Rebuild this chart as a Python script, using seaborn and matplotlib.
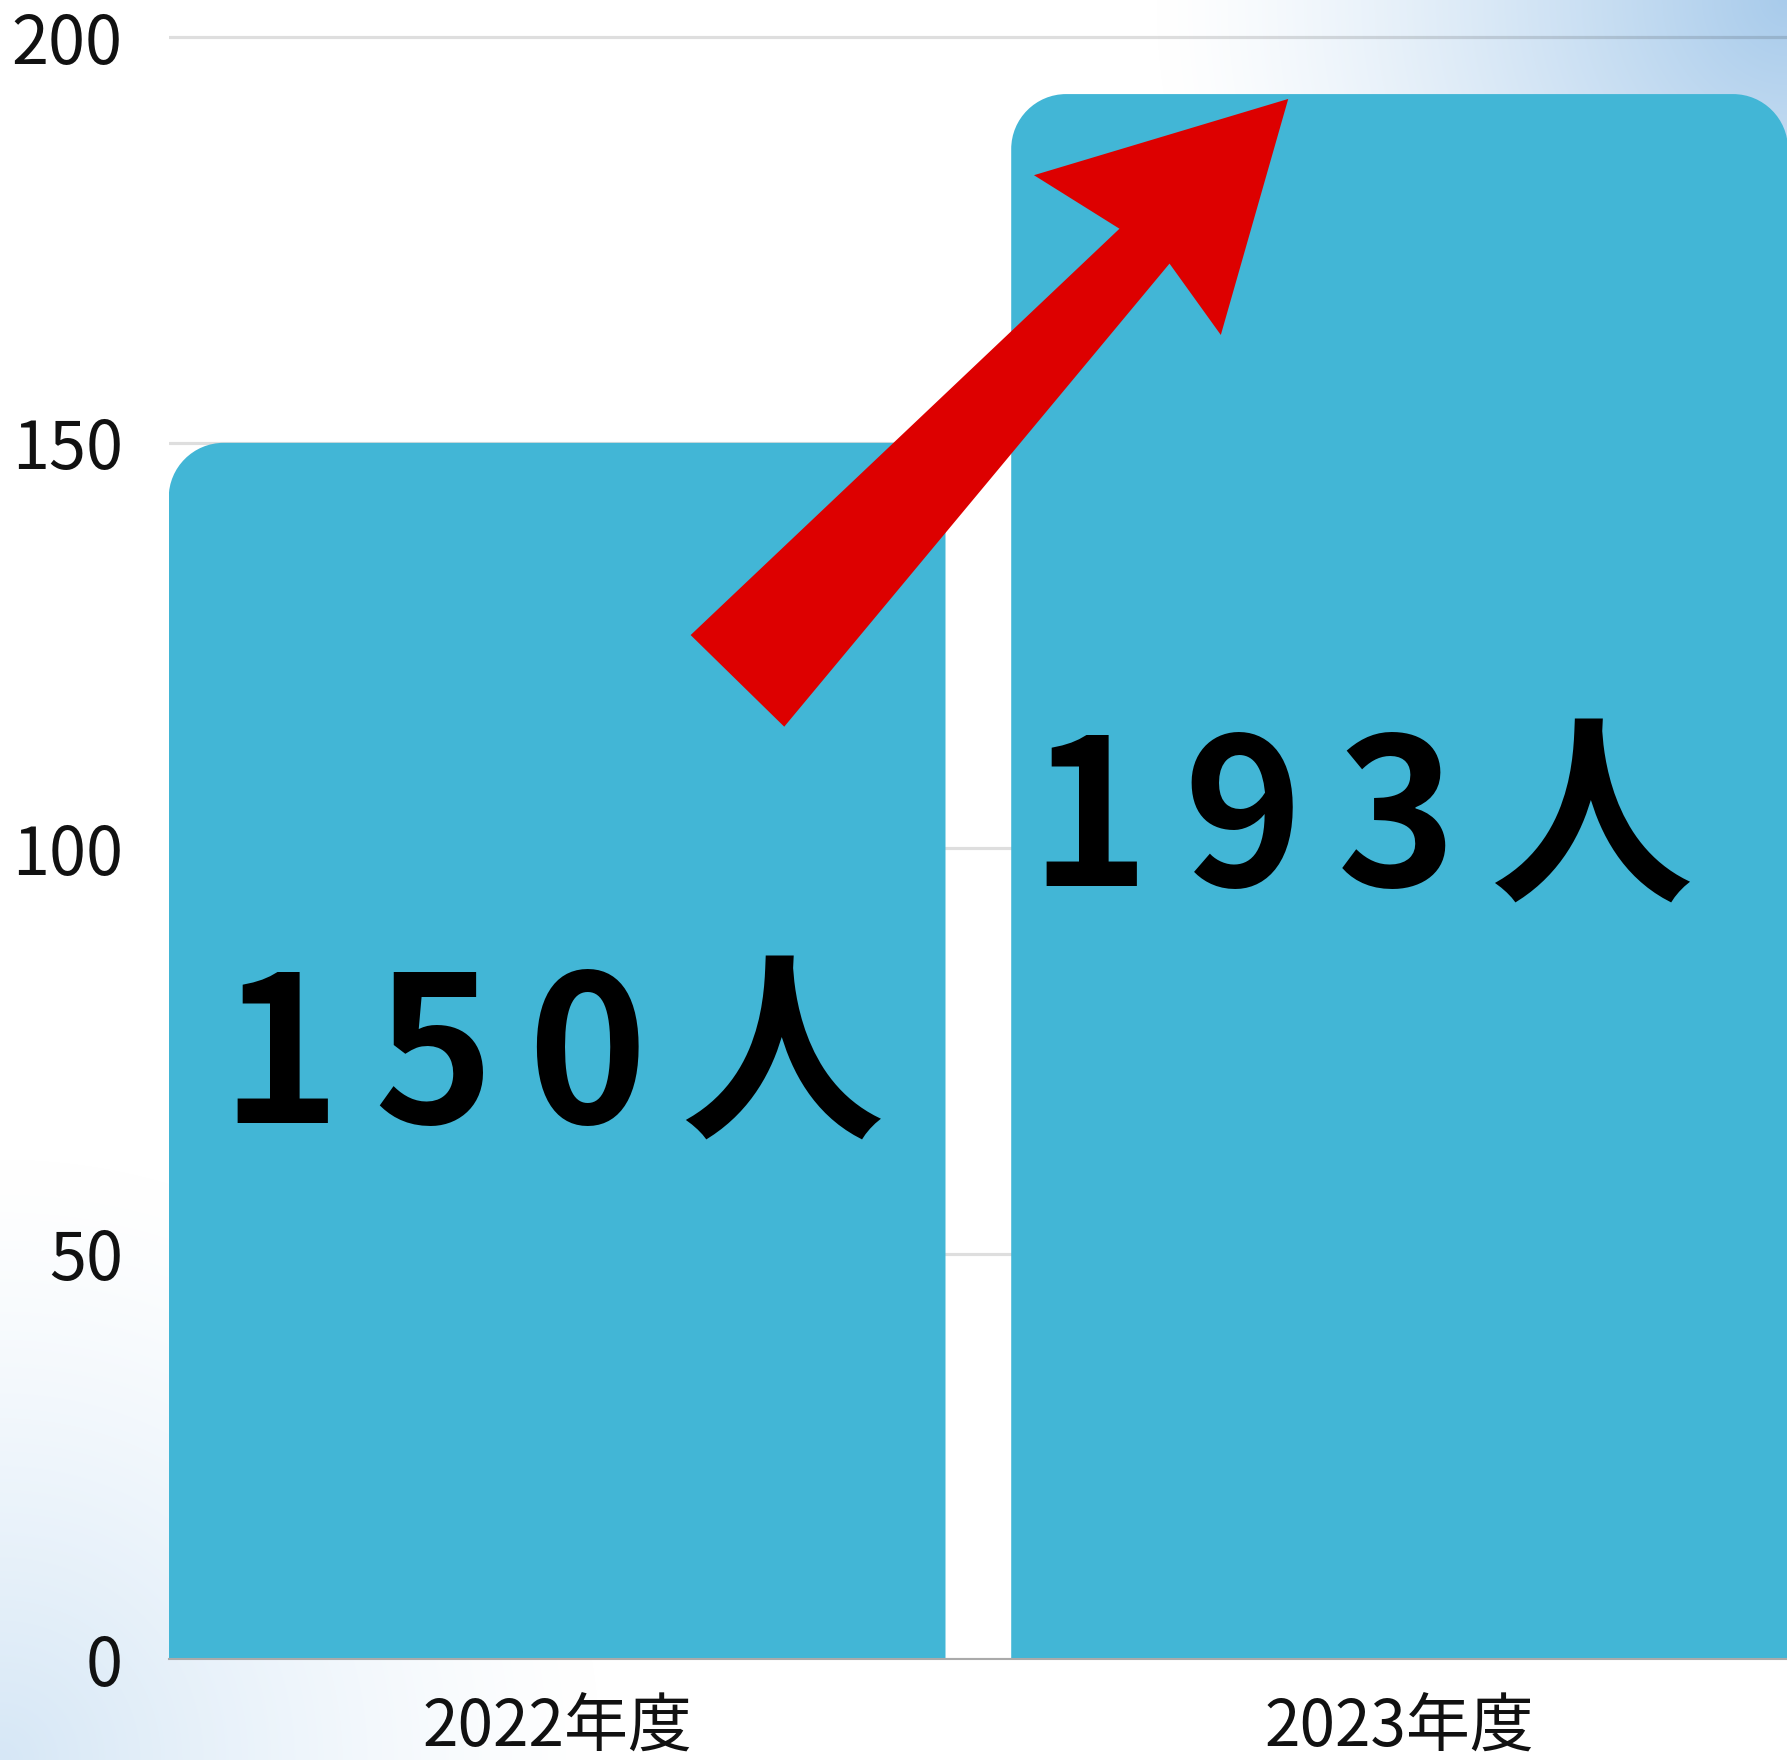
import numpy as np
import pandas as pd
import matplotlib
matplotlib.use("Agg")
from matplotlib import pyplot as plt
from matplotlib.patches import PathPatch, Polygon
from matplotlib.path import Path
import seaborn as sns

# data
years = ["2022年度", "2023年度"]
members = [150, 193]
value_labels = ["1\u20065\u20060\u2006人", "1\u20069\u20063\u2006人"]
label_base = [66.2, 95.4]      # baseline of the big labels (data units)
label_dx = [-0.005, -0.045]
y_ticks = [0, 50, 100, 150, 200]

# red "growth" arrow, data coords
arrow_x = [0.1585, 0.6675, 0.566, 0.8678, 0.7878, 0.7269, 0.2696]
arrow_y = [126.3, 176.4, 183.0, 192.4, 163.3, 172.1, 115.0]

bar_color = "#42B6D6"
arrow_color = "#DD0000"

sns.set_theme(style="white")
plt.rcParams['font.family'] = ['Noto Sans CJK JP', 'DejaVu Sans']

W, H = 1787, 1760
fig = plt.figure(figsize=(W / 100, H / 100), dpi=100)

# background: white with soft blue corners
bg = fig.add_axes([0, 0, 1, 1], zorder=0)
yy, xx = np.mgrid[0:H, 0:W].astype(float)
img = np.ones((H, W, 3))
w_tr = np.clip(1 - np.hypot(xx - W, yy) / 630, 0, 1) ** 1.3
w_bl = np.clip(1 - np.hypot(xx, yy - H) / 600, 0, 1) ** 1.3
c_tr = np.array([168, 203, 235]) / 255
c_bl = np.array([214, 231, 246]) / 255
img = img - w_tr[..., None] * (1 - c_tr) - w_bl[..., None] * (1 - c_bl)
bg.imshow(np.clip(img, 0, 1), extent=[0, 1, 0, 1], aspect='auto', origin='upper')
bg.axis('off')

left = 168.7 / W
bottom = 1 - 1659.4 / H
ax = fig.add_axes([left, bottom, 1788 / W - left, 1 - bottom], zorder=1)
ax.set_facecolor('none')

df = pd.DataFrame({"year": years, "members": members})
sns.barplot(data=df, x="year", y="members", color=bar_color, saturation=1,
            width=0.922, ax=ax)

ax.set_xlim(-0.461, 1.461)
ax.set_ylim(0, 204.6)

# rounded top corners (circular, ~55px radius)
px_x = 1619 / 1.922
px_y = 1659.4 / 204.6
rx, ry = 55 / px_x, 55 / px_y
k = 0.5523
for p in list(ax.patches):
    x, w, h = p.get_x(), p.get_width(), p.get_height()
    p.remove()
    verts = [(x, 0), (x, h - ry),
             (x, h - ry + k * ry), (x + rx - k * rx, h), (x + rx, h),
             (x + w - rx, h),
             (x + w - rx + k * rx, h), (x + w, h - ry + k * ry), (x + w, h - ry),
             (x + w, 0), (x, 0)]
    codes = [Path.MOVETO, Path.LINETO,
             Path.CURVE4, Path.CURVE4, Path.CURVE4,
             Path.LINETO,
             Path.CURVE4, Path.CURVE4, Path.CURVE4,
             Path.LINETO, Path.CLOSEPOLY]
    ax.add_patch(PathPatch(Path(verts, codes), fc=bar_color, ec='none', zorder=2))

ax.add_patch(Polygon(np.column_stack([arrow_x, arrow_y]), closed=True,
                     fc=arrow_color, ec='none', zorder=3))

for i, lab in enumerate(value_labels):
    ax.text(i + label_dx[i], label_base[i], lab, ha='center', va='baseline',
            fontsize=146, fontweight='bold', color='black', zorder=4)

ax.set_yticks(y_ticks)
ax.yaxis.grid(True, color='black', alpha=0.13, linewidth=2.3)
ax.set_axisbelow(True)
for s in ['left', 'top', 'right']:
    ax.spines[s].set_visible(False)
ax.spines['bottom'].set_color('#AAAAAA')
ax.spines['bottom'].set_linewidth(1.5)
ax.spines['bottom'].set_zorder(5)
ax.tick_params(axis='y', length=0, pad=33, labelsize=48, labelcolor='#111111')
ax.tick_params(axis='x', length=0, pad=26, labelsize=46, labelcolor='#111111')
ax.set_xlabel('')
ax.set_ylabel('')

fig.savefig("out.png", dpi=100)
